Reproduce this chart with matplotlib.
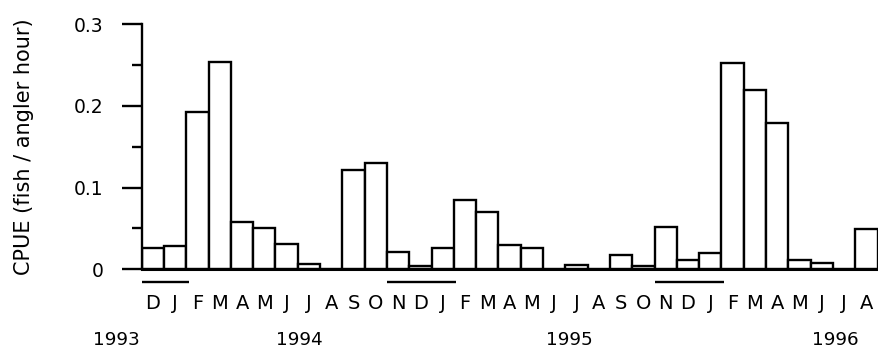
import matplotlib
matplotlib.use("Agg")
import matplotlib.pyplot as plt
import matplotlib.transforms as mtransforms
from matplotlib.ticker import FixedLocator

plt.rcParams['font.family'] = ['DejaVu Sans']

# Monthly series from Dec 1993 to Aug 1996
months = ["D", "J", "F", "M", "A", "M", "J", "J", "A", "S", "O", "N",
          "D", "J", "F", "M", "A", "M", "J", "J", "A", "S", "O", "N",
          "D", "J", "F", "M", "A", "M", "J", "J", "A"]
cpue = [0.026, 0.028, 0.192, 0.253, 0.058, 0.051, 0.031, 0.007, 0.0, 0.121, 0.130, 0.021,
        0.004, 0.026, 0.085, 0.070, 0.030, 0.026, 0.0, 0.005, 0.0, 0.017, 0.004, 0.052,
        0.011, 0.020, 0.252, 0.219, 0.179, 0.012, 0.008, 0.0, 0.049]
years = ["1993", "1994", "1995", "1996"]
year_pos = [-1.63, 6.55, 18.66, 30.59]
# winter periods (first index, last index) underlined
winter_spans = [(0, 1), (11, 13), (23, 25)]

fig = plt.figure(figsize=(8.79, 3.52), dpi=100)
ax = fig.add_axes([0.1612, 0.2349, 0.8372, 0.6969])

x = list(range(len(cpue)))
ax.bar(x, cpue, width=1.0, color="white", edgecolor="black", linewidth=1.7, zorder=2)

ax.set_xlim(-0.5, len(cpue) - 0.5)
ax.set_ylim(0, 0.3)

for s in ["top", "right"]:
    ax.spines[s].set_visible(False)
ax.spines["left"].set_linewidth(1.7)
ax.spines["bottom"].set_linewidth(2.2)
ax.spines["bottom"].set_zorder(3)

ax.yaxis.set_major_locator(FixedLocator([0, 0.1, 0.2, 0.3]))
ax.yaxis.set_minor_locator(FixedLocator([0.05, 0.15, 0.25]))
ax.set_yticklabels(["0", "0.1", "0.2", "0.3"])
ax.tick_params(axis="y", which="major", direction="out", length=14.4, width=1.7,
               pad=13, labelsize=13.5)
ax.tick_params(axis="y", which="minor", direction="out", length=7.2, width=1.7)
ax.set_xticks([])

ax.set_ylabel("CPUE (fish / angler hour)", fontsize=15)
ax.yaxis.set_label_coords(-0.146, 0.5)

trans = mtransforms.blended_transform_factory(ax.transData, ax.transAxes)
for i, m in enumerate(months):
    ax.text(i, -0.139, m, transform=trans, ha="center", va="center", fontsize=14)
for yl, yp in zip(years, year_pos):
    ax.text(yp, -0.289, yl, transform=trans, ha="center", va="center", fontsize=13.2,
            clip_on=False)
for a, b in winter_spans:
    ax.plot([a - 0.5, b + 0.6], [-0.0505, -0.0505], transform=trans, color="black",
            linewidth=1.7, clip_on=False, solid_capstyle="butt")

fig.savefig("out.png", dpi=100)
